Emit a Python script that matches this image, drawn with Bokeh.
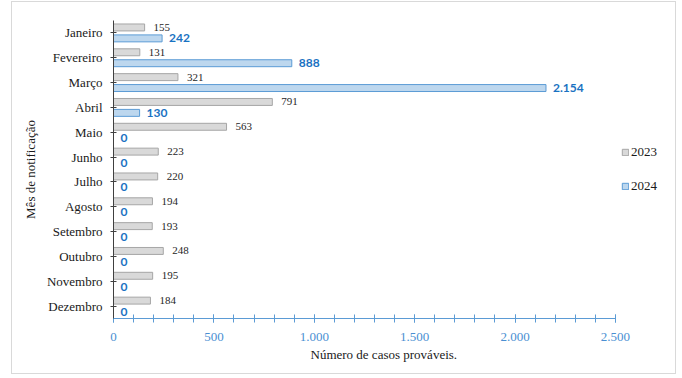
from bokeh.plotting import figure
from bokeh.models import (ColumnDataSource, Range1d, FactorRange, Legend, LegendItem,
                          FixedTicker, Title)
from bokeh.transform import dodge
from bokeh.core.properties import value
from bokeh.embed import file_html
from bokeh.resources import INLINE

# Casos prováveis por mês de notificação
meses = ["Janeiro", "Fevereiro", "Março", "Abril", "Maio", "Junho", "Julho",
         "Agosto", "Setembro", "Outubro", "Novembro", "Dezembro"]
casos_2023 = [155, 131, 321, 791, 563, 223, 220, 194, 193, 248, 195, 184]
casos_2024 = [242, 888, 2154, 130, 0, 0, 0, 0, 0, 0, 0, 0]
x_ticks = [0, 500, 1000, 1500, 2000, 2500]


def fmt(v):
    return f"{v:,}".replace(",", ".")


src = ColumnDataSource(dict(
    mes=meses,
    a23=casos_2023,
    a24=casos_2024,
    t23=[fmt(v) for v in casos_2023],
    t24=[fmt(v) for v in casos_2024],
))

SERIF = "Liberation Serif"
GRAY_FILL, GRAY_LINE = "#d9d9d9", "#a6a6a6"
BLUE_FILL, BLUE_LINE = "#bdd7ee", "#5b9bd5"
BLUE_TEXT = "#1a72c2"
AXIS_BLUE = "#5b9bd5"

p = figure(
    width=665, height=373,
    y_range=FactorRange(factors=meses[::-1], range_padding=0),
    x_range=Range1d(0, 2804),
    output_backend="svg", toolbar_location=None,
    min_border_left=101, min_border_right=1,
    min_border_top=18, min_border_bottom=57,
)
p.styles = {"margin-left": "11px", "margin-top": "1px",
            "border": "1px solid #d9d9d9"}
p.outline_line_color = None
p.background_fill_color = "white"
p.border_fill_color = "white"
p.xgrid.visible = False
p.ygrid.visible = False

off = 0.22
r23 = p.hbar(y=dodge("mes", off, range=p.y_range), left=0, right="a23", height=0.28,
             source=src, fill_color=GRAY_FILL, line_color=GRAY_LINE, line_width=1)
r24 = p.hbar(y=dodge("mes", -off, range=p.y_range), left=0, right="a24", height=0.28,
             source=src, fill_color=BLUE_FILL, line_color=BLUE_LINE, line_width=1)

p.text(x="a23", y=dodge("mes", off, range=p.y_range), text="t23", source=src,
       x_offset=9, text_baseline="middle", text_align="left",
       text_font=value(SERIF), text_font_size="11px", text_color="#262626")
p.text(x="a24", y=dodge("mes", -off, range=p.y_range), text="t24", source=src,
       x_offset=7, text_baseline="middle", text_align="left",
       text_font=value("Lato"), text_font_style="bold", text_font_size="12px",
       text_color=BLUE_TEXT)

# X axis (line and ticks only up to 2.500)
xa = p.xaxis[0]
xa.bounds = (0, 2500)
xa.ticker = FixedTicker(ticks=x_ticks, minor_ticks=list(range(0, 2501, 100)))
xa.major_label_overrides = {t: fmt(t) for t in x_ticks}
xa.axis_line_color = AXIS_BLUE
xa.major_tick_line_color = AXIS_BLUE
xa.minor_tick_line_color = AXIS_BLUE
xa.major_tick_in = 4
xa.major_tick_out = 4
xa.minor_tick_in = 4
xa.minor_tick_out = 4
xa.major_label_standoff = 10
xa.major_label_text_font = SERIF
xa.major_label_text_font_size = "13px"
xa.major_label_text_color = "#4a8fd2"

# X axis title, centred under the 0–2.500 span rather than the whole frame
p.add_layout(Title(text="Número de casos prováveis.", align="left", offset=197,
                   standoff=2, text_font=SERIF, text_font_size="13px",
                   text_font_style="normal", text_color="#1a1a1a"), "below")

# Y axis
ya = p.yaxis[0]
ya.axis_line_color = "#404040"
ya.major_tick_line_color = "#404040"
ya.major_tick_in = 3
ya.major_tick_out = 3
ya.minor_tick_line_color = None
ya.major_label_standoff = 8
ya.major_label_text_font = SERIF
ya.major_label_text_font_size = "13px"
ya.major_label_text_color = "#1a1a1a"
ya.axis_label = "Mês de notificação"
ya.axis_label_text_font = SERIF
ya.axis_label_text_font_size = "13px"
ya.axis_label_text_font_style = "normal"
ya.axis_label_text_color = "#1a1a1a"
ya.axis_label_standoff = 6

# Legend, one entry per year
for label, rend, loc in (("2023", r23, (508, 158)), ("2024", r24, (508, 124))):
    lg = Legend(items=[LegendItem(label=label, renderers=[rend])], location=loc,
                padding=0, margin=0, border_line_alpha=0, background_fill_alpha=0,
                glyph_width=8, glyph_height=8, label_standoff=2,
                label_text_font=SERIF, label_text_font_size="13px",
                label_text_color="#1a1a1a")
    p.add_layout(lg)

open("out.html", "w").write(file_html(p, INLINE))
